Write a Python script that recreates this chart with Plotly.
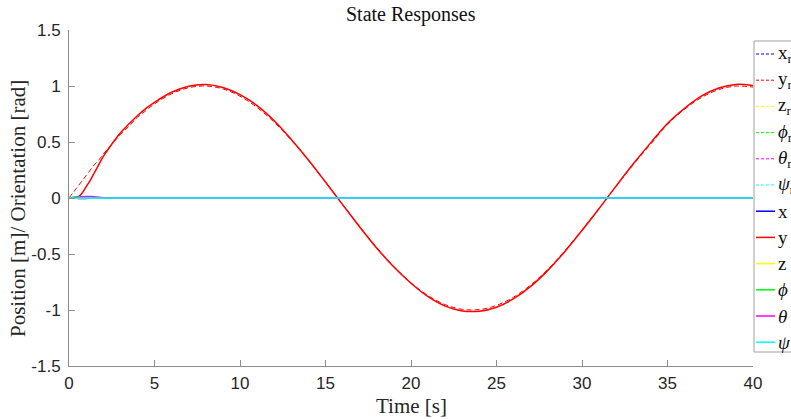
import plotly.graph_objects as go

# Time samples [s]
t = [0, 0.25, 0.5, 0.75, 1, 1.25, 1.5, 1.75, 2, 2.5, 3, 3.5, 4, 4.5, 5,
     6, 7, 8, 9, 10, 11, 12, 13, 14, 15, 16, 17, 18, 19, 20,
     21, 22, 23, 24, 25, 26, 27, 28, 29, 30, 31, 32, 33, 34, 35,
     36, 37, 38, 39, 40]

# Reference trajectories
y_ref = [0, 0.05, 0.10, 0.15, 0.20, 0.25, 0.30, 0.34, 0.39, 0.48, 0.565, 0.64, 0.72, 0.78, 0.84,
         0.93, 0.985, 1.0, 0.974, 0.909, 0.808, 0.676, 0.516, 0.335, 0.141, -0.058, -0.255, -0.442, -0.612, -0.757,
         -0.872, -0.952, -0.994, -0.996, -0.959, -0.885, -0.776, -0.637, -0.47, -0.285, -0.093, 0.105, 0.298, 0.478, 0.657,
         0.793, 0.898, 0.968, 0.999, 0.99]
zero_ref = [0.0] * len(t)

# Measured states
x_act = [0, 0, -0.003, -0.005, -0.004, -0.002, -0.001, 0, 0, 0, 0, 0, 0, 0, 0] + [0] * 35
y_act = [0, 0, 0.005, 0.04, 0.10, 0.16, 0.23, 0.30, 0.37, 0.48, 0.58, 0.66, 0.735, 0.80, 0.854,
         0.944, 0.998, 1.013, 0.987, 0.923, 0.825, 0.69, 0.523, 0.34, 0.143, -0.059, -0.259, -0.448, -0.617, -0.761,
         -0.881, -0.965, -1.008, -1.011, -0.975, -0.899, -0.789, -0.646, -0.477, -0.29, -0.094, 0.108, 0.305, 0.49, 0.666,
         0.801, 0.911, 0.982, 1.014, 1.004]
z_act = [0.0] * len(t)
phi_act = [0, 0.010, 0.012, 0.008, 0.003, 0.001, 0, 0, 0, 0, 0, 0, 0, 0, 0] + [0] * 35
theta_act = [0, 0.002, 0.006, 0.011, 0.014, 0.013, 0.010, 0.006, 0.003, 0.001, 0, 0, 0, 0, 0] + [0] * 35
psi_act = [0.0] * len(t)

colors = ["#0000ff", "#ff0000", "#ffff00", "#00ff00", "#ff00ff", "#00ffff"]
ref_names = ["x<sub>r</sub>", "y<sub>r</sub>", "z<sub>r</sub>",
             "<i>ϕ</i><sub>r</sub>", "<i>θ</i><sub>r</sub>", "<i>ψ</i><sub>r</sub>"]
act_names = ["x", "y", "z", "<i>ϕ</i>", "<i>θ</i>", "<i>ψ</i>"]
refs = [zero_ref, y_ref, zero_ref, zero_ref, zero_ref, zero_ref]
acts = [x_act, y_act, z_act, phi_act, theta_act, psi_act]

DASH = "5px,3px"

fig = go.Figure()
for vals, c in zip(refs, colors):
    fig.add_trace(go.Scatter(x=t, y=vals, mode="lines", showlegend=False,
                             line=dict(color=c, width=1, dash=DASH, shape="spline")))
for vals, c in zip(acts, colors):
    fig.add_trace(go.Scatter(x=t, y=vals, mode="lines", showlegend=False,
                             line=dict(color=c, width=1.5, shape="spline")))

# Plot-area geometry in pixels
L, R, T, B = 69, 38, 30, 53
W, H = 791, 419
pw, ph = W - L - R, H - T - B


def px(xp):
    return (xp - L) / pw


def py(yp):
    return (H - B - yp) / ph


shapes = []
annotations = []

# Legend box
shapes.append(dict(type="rect", xref="paper", yref="paper",
                   x0=px(754), x1=px(800), y0=py(352), y1=py(41),
                   line=dict(color="#a0a0a0", width=1), fillcolor="white", layer="above"))
labels = ref_names + act_names
for i, lab in enumerate(labels):
    yc = 54 + 26.2 * i
    c = colors[i % 6]
    dashed = i < 6
    shapes.append(dict(type="line", xref="paper", yref="paper",
                       x0=px(756), x1=px(775), y0=py(yc), y1=py(yc),
                       line=dict(color=c, width=1 if dashed else 1.5,
                                 dash="3px,2px" if dashed else "solid"),
                       layer="above"))
    annotations.append(dict(text=lab, xref="paper", yref="paper",
                            x=px(776), y=py(yc), xanchor="left", yanchor="middle",
                            showarrow=False,
                            font=dict(family="Liberation Serif", size=19, color="#111111")))

annotations.append(dict(text="Position [m]/ Orientation [rad]", xref="paper", yref="paper",
                        x=px(18), y=py(209), textangle=-90, xanchor="center", yanchor="middle",
                        showarrow=False,
                        font=dict(family="Liberation Serif", size=21, color="#262626")))
annotations.append(dict(text="Time [s]", xref="paper", yref="paper",
                        x=px(411), y=py(406), xanchor="center", yanchor="middle",
                        showarrow=False,
                        font=dict(family="Liberation Serif", size=21, color="#262626")))
annotations.append(dict(text="State Responses", xref="paper", yref="paper",
                        x=px(411), y=py(15), xanchor="center", yanchor="middle",
                        showarrow=False,
                        font=dict(family="Liberation Serif", size=20, color="#111111")))

axis_common = dict(showgrid=False, zeroline=False, showline=True, linecolor="#8c8c8c",
                   linewidth=1, ticks="inside", ticklen=6, tickcolor="#8c8c8c",
                   tickfont=dict(family="Liberation Sans", size=17, color="#262626"),
                   mirror=False)

fig.update_layout(
    width=W, height=H,
    margin=dict(l=L, r=R, t=T, b=B, pad=0),
    paper_bgcolor="white", plot_bgcolor="white",
    showlegend=False,
    xaxis=dict(range=[0, 40], tickvals=[0, 5, 10, 15, 20, 25, 30, 35, 40],
               ticklabelstandoff=2, **axis_common),
    yaxis=dict(range=[-1.5, 1.5], tickvals=[-1.5, -1, -0.5, 0, 0.5, 1, 1.5],
               ticktext=["-1.5", "-1", "-0.5", "0", "0.5", "1", "1.5"],
               ticklabelstandoff=4, **axis_common),
    shapes=shapes,
    annotations=annotations,
)

fig.write_html("out.html")
